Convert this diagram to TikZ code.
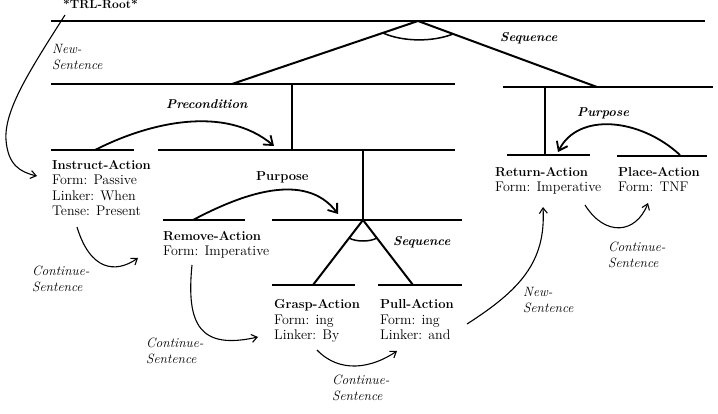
\documentclass[tikz,border=0pt]{standalone}
\usetikzlibrary{arrows.meta}
\newcommand{\hd}[1]{{\bfseries\fontsize{13}{15.3}\selectfont #1}}
\begin{document}
\begin{tikzpicture}[x=1pt,y=-1pt,
  bar/.style={line width=2.4pt},
  stem/.style={line width=2pt},
  joinarc/.style={line width=1.5pt},
  rel/.style={line width=1.8pt,-{Straight Barb[length=8pt,width=12pt,line width=1.8pt]}},
  link/.style={line width=1.1pt,-{Straight Barb[length=5.5pt,width=8pt,line width=1.1pt]}},
  txt/.style={anchor=north west,inner sep=0pt,align=left,font=\fontsize{14}{15.3}\selectfont},
  lab/.style={anchor=north west,inner sep=0pt,align=left,font=\itshape\fontsize{13.5}{16}\selectfont},
  rlab/.style={anchor=base west,inner sep=0pt,font=\bfseries\itshape\fontsize{12.8}{14}\selectfont},
]
\useasboundingbox (0,0) rectangle (718,414);
\fill[white] (0,0) rectangle (718,414);

% coordinates of the tree lines
\coordinate (r0a) at (51,21);  \coordinate (r0b) at (705,21);
\coordinate (s1) at (418,21);
\coordinate (l2a) at (51,84);  \coordinate (l2b) at (455,84);
\coordinate (p2) at (232,84);
\coordinate (r2a) at (503,87); \coordinate (r2b) at (713,87);
\coordinate (p2r) at (597,87);
\coordinate (v1t) at (292,84); \coordinate (v1b) at (292,150);
\coordinate (l3a) at (51,150); \coordinate (l3aa) at (134,150);
\coordinate (l3b) at (158,150); \coordinate (l3bb) at (455,150);
\coordinate (v2t) at (363,150); \coordinate (v2b) at (363,220);
\coordinate (l4a) at (163,220); \coordinate (l4aa) at (245,220);
\coordinate (l4b) at (272,220); \coordinate (l4bb) at (462,220);
\coordinate (g) at (313,285);  \coordinate (pu) at (413,285);
\coordinate (l5a) at (272,285); \coordinate (l5aa) at (355,285);
\coordinate (l5b) at (378,285); \coordinate (l5bb) at (462,285);
\coordinate (v3t) at (545,87); \coordinate (v3b) at (545,155);
\coordinate (l6a) at (507,155); \coordinate (l6aa) at (590,155);
\coordinate (l6b) at (617,156); \coordinate (l6bb) at (707,156);

% horizontal bars
\draw[bar] (r0a) -- (r0b);
\draw[bar] (l2a) -- (l2b);
\draw[bar] (r2a) -- (r2b);
\draw[bar] (l3a) -- (l3aa);
\draw[bar] (l3b) -- (l3bb);
\draw[bar] (l4a) -- (l4aa);
\draw[bar] (l4b) -- (l4bb);
\draw[bar] (l5a) -- (l5aa);
\draw[bar] (l5b) -- (l5bb);
\draw[bar] (l6a) -- (l6aa);
\draw[bar] (l6b) -- (l6bb);

% stems and triangles
\draw[stem] (p2) -- (s1) -- (p2r);
\draw[joinarc] (383,33) .. controls (403,42) and (433,42) .. (453,34);
\draw[stem] (v1t) -- (v1b);
\draw[stem] (v2t) -- (v2b);
\draw[stem] (g) -- (v2b) -- (pu);
\draw[joinarc] (349,238) .. controls (356,242) and (370,242) .. (377,238);
\draw[stem] (v3t) -- (v3b);

% texts
\node[anchor=base west,inner sep=0pt,font=\bfseries\fontsize{12}{14}\selectfont] (root) at (63,8.5) {*TRL-Root*};
\node[txt] (instruct) at (52,160.4) {\hd{Instruct-Action}\\Form: Passive\\Linker: When\\Tense: Present};
\node[txt] (remove) at (163,231.4) {\hd{Remove-Action}\\Form: Imperative};
\node[txt] (grasp) at (274,299.4) {\hd{Grasp-Action}\\Form: ing\\Linker: By};
\node[txt] (pull) at (380,299.4) {\hd{Pull-Action}\\Form: ing\\Linker: and};
\node[txt] (return) at (495,167.4) {\hd{Return-Action}\\Form: Imperative};
\node[txt] (place) at (618,167.4) {\hd{Place-Action}\\Form: TNF};

% relation labels
\node[rlab] (seq1) at (500,42) {Sequence};
\node[rlab] (precond) at (166,109) {Precondition};
\node[anchor=base west,inner sep=0pt,font=\bfseries\fontsize{13}{14}\selectfont] (purp1) at (256,181) {Purpose};
\node[rlab] (purp2) at (577,117) {Purpose};
\node[rlab] (seq2) at (393,246) {Sequence};

% link labels
\node[lab] (ns1) at (52,44) {New-\\Sentence};
\node[lab] (cs1) at (32,266) {Continue-\\Sentence};
\node[lab] (cs2) at (146,338) {Continue-\\Sentence};
\node[lab] (cs3) at (332,375) {Continue-\\Sentence};
\node[lab] (ns2) at (523,287) {New-\\Sentence};
\node[lab] (cs4) at (608,242) {Continue-\\Sentence};

% connector end points
\coordinate (a1s) at (65,15);   \coordinate (a1e) at (37,176);
\coordinate (a2s) at (95,150);  \coordinate (a2e) at (274,146);
\coordinate (a3s) at (193,220); \coordinate (a3e) at (338,214);
\coordinate (a4s) at (680,155); \coordinate (a4e) at (558,152);
\coordinate (a5s) at (77,227);  \coordinate (a5e) at (138,258);
\coordinate (a6s) at (192,265); \coordinate (a6e) at (258,337);
\coordinate (a7s) at (317,350); \coordinate (a7e) at (397,351);
\coordinate (a8s) at (467,324); \coordinate (a8e) at (543,207);
\coordinate (a9s) at (585,205); \coordinate (a9e) at (648,203);

% connectors
\draw[link] (a1s) .. controls (30,70) and (4,110) .. (6,140) .. controls (8,165) and (20,172) .. (a1e);
\draw[rel] (a2s) .. controls (150,122) and (225,105) .. (a2e);
\draw[rel] (a3s) .. controls (240,195) and (305,170) .. (a3e);
\draw[rel] (a4s) .. controls (640,118) and (578,112) .. (a4e);
\draw[link] (a5s) .. controls (90,270) and (115,274) .. (a5e);
\draw[link] (a6s) .. controls (186,325) and (200,350) .. (a6e);
\draw[link] (a7s) .. controls (340,374) and (372,368) .. (a7e);
\draw[link] (a8s) .. controls (520,290) and (546,262) .. (a8e);
\draw[link] (a9s) .. controls (605,237) and (636,234) .. (a9e);
\end{tikzpicture}
\end{document}
